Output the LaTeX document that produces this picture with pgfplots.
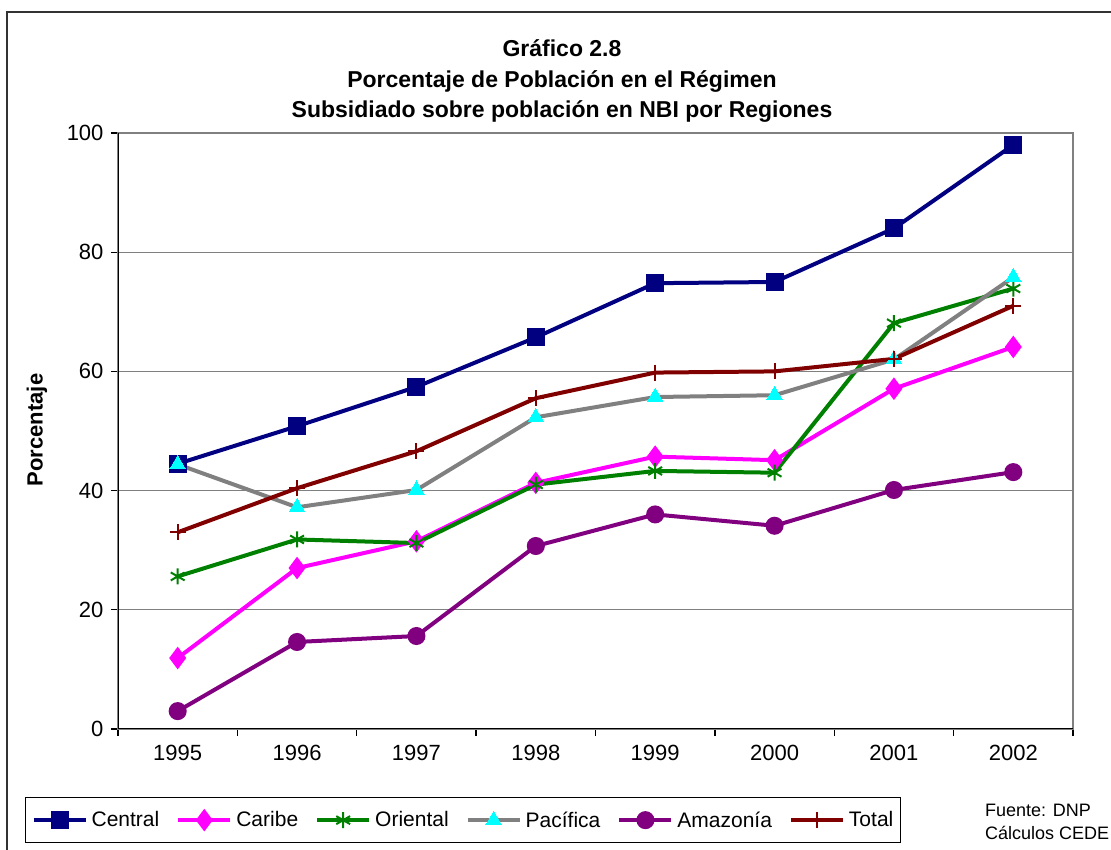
\documentclass[border=0pt]{standalone}
\usepackage{fontspec}
\setmainfont{Liberation Sans}
\usepackage{pgfplots}
\pgfplotsset{compat=1.18}
\definecolor{cCentral}{HTML}{000080}
\definecolor{cCaribe}{HTML}{FF00FF}
\definecolor{cOriental}{HTML}{008000}
\definecolor{cPacifica}{HTML}{808080}
\definecolor{cPacMark}{HTML}{00FFFF}
\definecolor{cAmazonia}{HTML}{800080}
\definecolor{cTotal}{HTML}{800000}
\begin{document}
\begin{tikzpicture}[x=1pt,y=1pt]
\useasboundingbox (0,0) rectangle (1111,850);
\draw[line width=2pt, black!80] (7,0) -- (7,838) -- (1111,838);
\node[font=\bfseries\fontsize{23}{23}\selectfont] at (562,802) {Gráfico 2.8};
\node[font=\bfseries\fontsize{23}{23}\selectfont] at (562,768) {Porcentaje de Población en el Régimen};
\node[font=\bfseries\fontsize{23}{23}\selectfont] at (562,738) {Subsidiado sobre población en NBI por Regiones};
\node[rotate=90, font=\bfseries\fontsize{22}{22}\selectfont] at (37,420) {Porcentaje};
\node[anchor=west, align=left, font=\fontsize{18}{23}\selectfont, inner sep=0pt] at (985,28.5) {Fuente: DNP\\Cálculos CEDE};
\begin{axis}[
  at={(118pt,121pt)}, anchor=south west,
  scale only axis, width=955pt, height=596pt,
  xmin=-0.5, xmax=7.5, ymin=0, ymax=100,
  xtick={-0.5,0.5,...,7.5},
  xticklabels={1995,1996,1997,1998,1999,2000,2001,2002},
  x tick label as interval,
  ytick={0,20,...,100},
  xtick pos=bottom, ytick pos=left,
  tick align=outside,
  major tick length=7pt,
  tick style={black, line width=1.3pt},
  axis line style={draw=cPacifica, line width=1.3pt},
  ymajorgrids,
  grid style={cPacifica, line width=1.3pt},
  /pgf/number format/assume math mode=true,
  ticklabel style={font=\fontsize{22}{22}\selectfont},
  xticklabel style={yshift=-6pt},
  yticklabel style={xshift=-4pt},
  legend columns=6,
  legend style={at={(axis description cs:-0.0974,-0.1141)}, anchor=north west,
    draw=black, line width=1.3pt, font=\fontsize{21}{21}\selectfont,
    inner xsep=6pt, inner ysep=13pt,
    nodes={inner sep=1pt},
    /tikz/every odd column/.append style={column sep=3pt},
    /tikz/every even column/.append style={column sep=16pt}},
  legend image code/.code={\draw[mark repeat=2,mark phase=2] plot coordinates {(0pt,0pt)(26pt,0pt)(52pt,0pt)};},
  every axis plot/.append style={line width=4pt},
]
\draw[black, line width=1.5pt] (rel axis cs:0,1) -- (rel axis cs:0,0) -- (rel axis cs:1,0);
\addplot[cCentral, mark=square*, mark size=7pt, mark options={solid}] coordinates {
(0,44.5) (1,50.8) (2,57.4) (3,65.7) (4,74.8) (5,75.0) (6,84.0) (7,98.0)};
\addlegendentry{Central}
\addplot[cCaribe, mark=diamond*, mark size=8pt, mark options={solid}] coordinates {
(0,11.9) (1,27.0) (2,31.5) (3,41.3) (4,45.7) (5,45.1) (6,57.1) (7,64.1)};
\addlegendentry{Caribe}
\addplot[cOriental, mark=asterisk, mark size=8pt, mark options={solid, line width=2pt}] coordinates {
(0,25.6) (1,31.8) (2,31.2) (3,41.0) (4,43.3) (5,43.0) (6,68.1) (7,73.9)};
\addlegendentry{Oriental}
\addplot[cPacifica, mark=triangle*, mark size=9pt, mark options={solid, draw=cPacMark, fill=cPacMark, line width=0pt}] coordinates {
(0,44.4) (1,37.2) (2,40.1) (3,52.3) (4,55.7) (5,56.0) (6,62.0) (7,75.8)};
\addlegendentry{Pacífica}
\addplot[cAmazonia, mark=*, mark size=7pt, mark options={solid}] coordinates {
(0,3.0) (1,14.6) (2,15.6) (3,30.7) (4,36.0) (5,34.1) (6,40.1) (7,43.1)};
\addlegendentry{Amazonía}
\addplot[cTotal, mark=+, mark size=8pt, mark options={solid, line width=2pt}] coordinates {
(0,33.0) (1,40.4) (2,46.6) (3,55.5) (4,59.8) (5,60.0) (6,62.1) (7,71.0)};
\addlegendentry{Total}
\end{axis}
\end{tikzpicture}
\end{document}
